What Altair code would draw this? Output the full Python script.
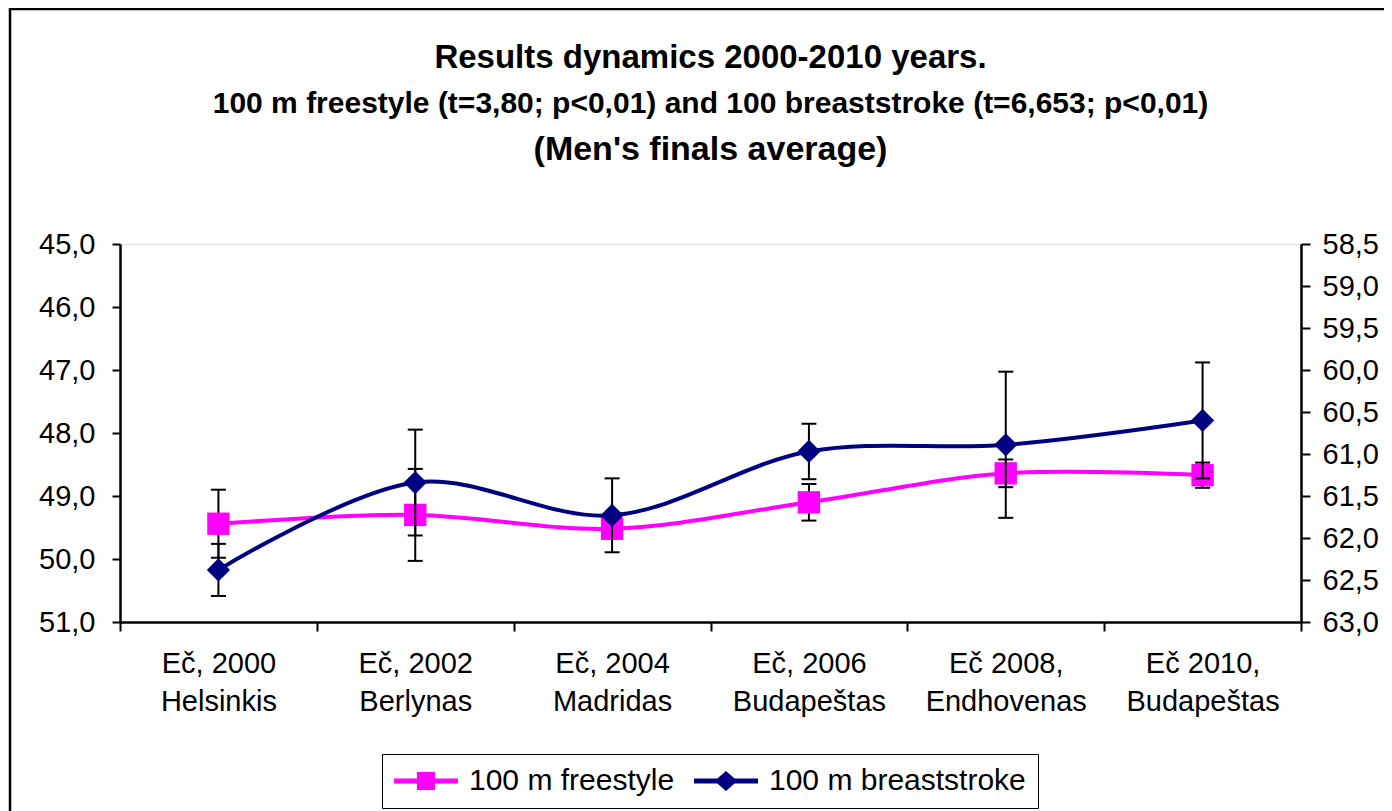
import altair as alt
import pandas as pd

# ---------------- data ----------------
categories = ["Eč, 2000|Helsinkis", "Eč, 2002|Berlynas", "Eč, 2004|Madridas",
              "Eč, 2006|Budapeštas", "Eč 2008,|Endhovenas", "Eč 2010,|Budapeštas"]
freestyle = [49.44, 49.30, 49.52, 49.10, 48.64, 48.67]
freestyle_err = [0.54, 0.73, 0.10, 0.29, 0.22, 0.20]
breaststroke = [62.38, 61.34, 61.73, 60.97, 60.89, 60.60]
breaststroke_err = [0.31, 0.63, 0.44, 0.33, 0.87, 0.69]
left_ticks = [45, 46, 47, 48, 49, 50, 51]
right_ticks = [58.5, 59.0, 59.5, 60.0, 60.5, 61.0, 61.5, 62.0, 62.5, 63.0]
series_names = ["100 m freestyle", "100 m breaststroke"]
series_colors = ["#FF00FF", "#000080"]
title_lines = ["Results dynamics 2000-2010 years.",
               "100 m freestyle (t=3,80; p<0,01) and 100 breaststroke (t=6,653; p<0,01)",
               "(Men's finals average)"]

df = pd.DataFrame({"cat": categories, "fs": freestyle, "fse": freestyle_err,
                   "br": breaststroke, "bre": breaststroke_err})

FONT = "Liberation Sans"
W, H = 1181, 378

x_enc = alt.X("cat:N", sort=categories,
              scale=alt.Scale(type="band", domain=categories, paddingInner=0, paddingOuter=0),
              axis=alt.Axis(title=None, labelExpr="split(datum.label, '|')", labelAngle=0,
                            tickBand="extent", tickSize=9, labelPadding=18, labelLineHeight=38,
                            labelFontSize=29, labelColor="black", labelFont=FONT,
                            domainColor="black", domainWidth=2.5, tickColor="black", tickWidth=2,
                            labelOverlap=False, labelLimit=400, grid=False))

fmt = "replace(format(datum.value, '.1f'), '.', ',')"

axis_left = alt.Axis(title=None, orient="left", values=left_ticks, labelExpr=fmt, tickSize=8,
                     labelPadding=17, labelFontSize=29, labelColor="black", labelFont=FONT,
                     domainColor="black", domainWidth=2.5, tickColor="black", tickWidth=2,
                     grid=False)
axis_right = alt.Axis(title=None, orient="right", values=right_ticks, labelExpr=fmt, tickSize=9,
                      labelPadding=12, labelFontSize=29, labelColor="black", labelFont=FONT,
                      domainColor="black", domainWidth=2.5, tickColor="black", tickWidth=2,
                      grid=False)

scale_left = alt.Scale(domain=[45, 51], reverse=True, zero=False, nice=False)
scale_right = alt.Scale(domain=[58.5, 63], reverse=True, zero=False, nice=False)


def series_layer(val, err, color, shape, size, scale, axis):
    base = alt.Chart(df).transform_calculate(
        lo=f"datum.{val} - datum.{err}", hi=f"datum.{val} + datum.{err}")
    rule = base.mark_rule(color="black", strokeWidth=2).encode(
        x=x_enc, y=alt.Y("lo:Q", scale=scale, axis=axis), y2="hi:Q")
    tick_lo = base.mark_tick(color="black", thickness=2, size=15, opacity=1).encode(
        x=x_enc, y=alt.Y("lo:Q", scale=scale, axis=axis))
    tick_hi = base.mark_tick(color="black", thickness=2, size=15, opacity=1).encode(
        x=x_enc, y=alt.Y("hi:Q", scale=scale, axis=axis))
    line = base.mark_line(color=color, strokeWidth=4, interpolate="catmull-rom").encode(
        x=x_enc, y=alt.Y(f"{val}:Q", scale=scale, axis=axis))
    pts = base.mark_point(shape=shape, filled=True, color=color, size=size, opacity=1,
                          strokeWidth=0).encode(
        x=x_enc, y=alt.Y(f"{val}:Q", scale=scale, axis=axis))
    return alt.layer(rule, tick_lo, tick_hi, line, pts)


left_layer = series_layer("fs", "fse", series_colors[0], "square", 500, scale_left, axis_left)
right_layer = series_layer("br", "bre", series_colors[1], "diamond", 540, scale_right, axis_right)

# legend-only layer (line + marker symbols)
path_sq = "M-1,-0.167H3.27V0.167H-1Z M0.53,-0.6H1.73V0.6H0.53Z"
path_dm = "M-1,-0.167H3.27V0.167H-1Z M1.13,-0.67L1.9,0L1.13,0.67L0.36,0Z"
leg = alt.Legend(title=None, orient="none", legendX=262, legendY=510, direction="horizontal",
                 labelFontSize=30, labelFont=FONT, labelColor="black", symbolSize=900,
                 symbolStrokeWidth=0, strokeColor="black", padding=12, columnPadding=19,
                 labelOffset=45, labelLimit=400, fillColor="white")
legend_layer = alt.Chart(pd.DataFrame({"series": series_names})).mark_point(
    filled=True, opacity=1, strokeWidth=0).encode(
    color=alt.Color("series:N", scale=alt.Scale(domain=series_names, range=series_colors), legend=leg),
    shape=alt.Shape("series:N", scale=alt.Scale(domain=series_names, range=[path_sq, path_dm]), legend=leg),
).transform_filter("false")

# outer frame of the chart area
frame = alt.Chart(pd.DataFrame({"a": [0]})).mark_rect(
    fill="white", fillOpacity=0, stroke="black", strokeWidth=2.5).encode(
    x=alt.value(-110), x2=alt.value(1300), y=alt.value(-235), y2=alt.value(600))

# third title line (larger than second)
title3 = alt.Chart(pd.DataFrame({"t": [title_lines[2]]})).mark_text(
    fontSize=34, fontWeight="bold", font=FONT, color="black", align="center",
    baseline="middle").encode(text="t:N", x=alt.value(W / 2), y=alt.value(-94))

chart = alt.layer(frame, left_layer, right_layer, legend_layer, title3).resolve_scale(
    y="independent"
).properties(
    width=W, height=H,
    padding={"left": 112, "top": 236, "right": 83, "bottom": 189},
    autosize=alt.AutoSizeParams(type="none"),
    title=alt.Title(text=title_lines[0], subtitle=title_lines[1], fontSize=33,
                    subtitleFontSize=30, font=FONT, subtitleFont=FONT, fontWeight="bold",
                    subtitleFontWeight="bold", color="black", subtitleColor="black",
                    anchor="middle", offset=-111.5, subtitlePadding=14),
).configure_view(strokeWidth=0).configure_legend(strokeWidth=2).configure(background="white")

chart.save("out.html", embed_options={"renderer": "svg", "actions": False})
